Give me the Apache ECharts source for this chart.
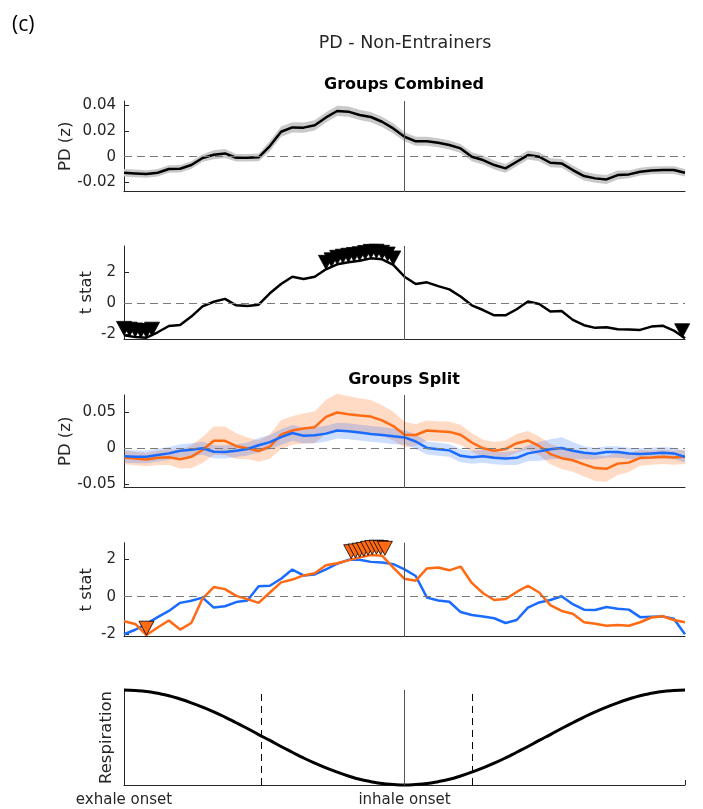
<!DOCTYPE html>
<html>
<head>
<meta charset="utf-8">
<script src="https://cdn.jsdelivr.net/npm/echarts@6/dist/echarts.min.js"></script>
<style>
  html, body { margin: 0; padding: 0; background: #ffffff; }
  #chart { width: 703px; height: 809px; }
</style>
</head>
<body>
<div id="chart"></div>
<script>
// Respiratory phase (0 = exhale onset, 100 = inhale onset, 200 = next exhale onset)
const phase = [0,4,8,12,16,20,24,28,32,36,40,44,48,52,56,60,64,68,72,76,80,84,88,92,96,100,
  104,108,112,116,120,124,128,132,136,140,144,148,152,156,160,164,168,172,176,180,184,188,192,196,200];

// Groups combined: mean pupil diameter (z) and its shaded error
const combinedPD = [-0.0125,-0.013,-0.0135,-0.0125,-0.0096,-0.0094,-0.0065,-0.001,0.0016,0.0026,-0.0008,
  -0.0008,-0.0005,0.0083,0.0195,0.0229,0.0227,0.0245,0.0307,0.0357,0.0352,0.0326,0.031,0.0273,0.0221,0.0156,
  0.012,0.012,0.0109,0.0091,0.0065,0.0,-0.0026,-0.0065,-0.0091,-0.0039,0.0013,0.0,-0.0047,-0.0052,-0.0104,
  -0.0151,-0.0169,-0.0177,-0.0143,-0.0138,-0.0117,-0.0107,-0.0104,-0.0104,-0.0125];
const combinedErr = [0.003,0.003,0.003,0.003,0.003,0.003,0.003,0.003,0.0035,0.0035,0.003,0.003,0.003,
  0.004,0.004,0.004,0.004,0.004,0.004,0.004,0.004,0.004,0.004,0.004,0.004,0.0035,
  0.0035,0.0035,0.0035,0.0035,0.0035,0.0035,0.0035,0.0035,0.0035,0.0035,0.0035,0.0035,0.0035,0.0035,0.0035,
  0.0035,0.0035,0.0035,0.0035,0.003,0.003,0.003,0.003,0.003,0.003];

// Groups combined: t statistic and significant samples
const combinedT = [-2.05,-2.15,-2.2,-1.85,-1.45,-1.38,-0.85,-0.2,0.1,0.28,-0.13,-0.17,-0.09,0.64,1.23,1.7,
  1.55,1.7,2.17,2.49,2.62,2.72,2.87,2.81,2.45,1.7,1.23,1.34,1.1,0.89,0.43,-0.13,-0.43,-0.77,-0.77,-0.38,
  0.11,-0.04,-0.53,-0.49,-1.06,-1.4,-1.57,-1.53,-1.66,-1.68,-1.7,-1.49,-1.43,-1.74,-2.23];
const sigCombinedX = [0,2,4,6,8,10,72,74,76,78,80,82,84,86,88,90,92,94,96,199];
const sigCombinedT = [-2.05,-2.1,-2.15,-2.2,-2.2,-2.1,2.17,2.33,2.49,2.56,2.62,2.67,2.72,2.8,2.87,2.88,2.81,2.7,2.45,-2.2];

// Groups split: pupil diameter (z), orange and blue groups
const splitPDOrange = [-0.0129,-0.0143,-0.0157,-0.0133,-0.0124,-0.0152,-0.0119,-0.0024,0.0105,0.0105,0.0029,
  0,-0.0038,0.0024,0.019,0.0248,0.0276,0.0295,0.0438,0.05,0.0476,0.0457,0.0443,0.039,0.031,0.019,
  0.0186,0.0248,0.0238,0.0229,0.019,0.0081,0,-0.0033,-0.001,0.0071,0.011,0.0033,-0.0081,-0.0138,-0.0167,
  -0.0224,-0.0276,-0.0286,-0.0214,-0.02,-0.0133,-0.0129,-0.0119,-0.0129,-0.0119];
const splitErrOrange = [0.0095,0.0095,0.0095,0.01,0.011,0.013,0.016,0.018,0.02,0.02,0.018,0.015,0.015,
  0.017,0.02,0.02,0.021,0.022,0.024,0.026,0.025,0.024,0.023,0.021,0.02,0.018,
  0.015,0.014,0.014,0.014,0.014,0.013,0.012,0.012,0.012,0.013,0.013,0.013,0.014,0.015,0.016,
  0.017,0.018,0.018,0.016,0.013,0.011,0.01,0.01,0.01,0.01];
const splitPDBlue = [-0.011,-0.0119,-0.0119,-0.0095,-0.0071,-0.0033,-0.0019,0,-0.0048,-0.0052,-0.0033,
  -0.001,0.0043,0.0086,0.0157,0.0214,0.0176,0.0181,0.0205,0.0248,0.0238,0.0219,0.02,0.0186,0.0167,0.0152,
  0.0095,0.0005,-0.0014,-0.0029,-0.0105,-0.0124,-0.011,-0.0133,-0.0143,-0.0133,-0.0071,-0.0043,-0.0014,
  0.0005,-0.0033,-0.0062,-0.0076,-0.0052,-0.0052,-0.0071,-0.0081,-0.0071,-0.0062,-0.0071,-0.0119];
const splitErrBlue = [0.009,0.009,0.009,0.009,0.009,0.009,0.009,0.009,0.009,0.009,0.009,0.009,0.01,
  0.01,0.011,0.011,0.011,0.011,0.011,0.011,0.011,0.011,0.011,0.011,0.011,0.01,
  0.01,0.009,0.009,0.009,0.009,0.009,0.009,0.009,0.009,0.01,0.011,0.013,0.014,0.015,0.012,
  0.009,0.008,0.008,0.008,0.008,0.008,0.008,0.008,0.008,0.008];

// Groups split: t statistic, orange and blue groups, with significant orange samples
const splitTOrange = [-1.31,-1.45,-2.04,-1.64,-1.27,-1.75,-1.4,-0.1,0.51,0.4,0.04,-0.13,-0.33,0.22,0.76,0.91,
  1.13,1.24,1.67,1.78,1.93,2.09,2.22,2.18,1.55,0.95,0.85,1.5,1.55,1.4,1.6,0.73,0.18,-0.18,-0.13,0.25,
  0.58,0.22,-0.45,-0.76,-0.91,-1.36,-1.44,-1.55,-1.51,-1.55,-1.36,-1.11,-1.04,-1.24,-1.36];
const splitTBlue = [-2.0,-1.76,-1.45,-1.09,-0.76,-0.33,-0.22,-0.05,-0.58,-0.51,-0.29,-0.2,0.55,0.58,0.95,1.44,
  1.13,1.18,1.45,1.75,1.96,1.96,1.85,1.82,1.73,1.45,1.1,-0.05,-0.2,-0.27,-0.82,-0.98,-1.05,-1.15,-1.4,-1.24,
  -0.58,-0.31,-0.18,0.02,-0.4,-0.69,-0.71,-0.55,-0.64,-0.69,-1.09,-1.07,-1.05,-1.18,-2.0];
const sigOrangeX = [8,81,82.5,84,85.5,87,88.5,90,91.5,93];
const sigOrangeT = [-2.05,2.02,2.06,2.1,2.14,2.2,2.24,2.26,2.24,2.2];

// Average respiration trace
const respiration = [1,0.99,0.97,0.93,0.88,0.81,0.73,0.64,0.54,0.43,0.31,0.19,0.06,-0.06,-0.19,-0.31,-0.43,
  -0.54,-0.64,-0.73,-0.81,-0.88,-0.93,-0.97,-0.99,-1,-0.99,-0.97,-0.93,-0.88,-0.81,-0.73,-0.64,-0.54,-0.43,
  -0.31,-0.19,-0.06,0.06,0.19,0.31,0.43,0.54,0.64,0.73,0.81,0.88,0.93,0.97,0.99,1];
const respMarkers = [49, 124];   // dashed phase markers
const inhaleOnset = 100;

const yTicks = [
  [-0.02, 0, 0.02, 0.04],
  [-2, 0, 2],
  [-0.05, 0, 0.05],
  [-2, 0, 2]
];
const yNames = ['PD (z)', 't stat', 'PD (z)', 't stat', 'Respiration'];

const FONT = 'DejaVu Sans';
const AXIS = '#262626';
const ORANGE = '#ff6a13';
const BLUE = '#1a6bff';

const grids = [
  { left: 124, width: 561, top: 101, height: 90.7 },
  { left: 124, width: 561, top: 246, height: 93.3 },
  { left: 124, width: 561, top: 395, height: 92.7 },
  { left: 124, width: 561, top: 542.7, height: 94 },
  { left: 124, width: 561, top: 690, height: 95 }
];
const yRanges = [
  [-0.0273, 0.0435],
  [-2.3, 3.66],
  [-0.055, 0.0744],
  [-2.13, 2.87],
  [-1, 1]
];
const nameGaps = [50, 29, 50, 29, 9];

const pairs = (ys) => ys.map((y, i) => [phase[i], y]);

const xAxes = grids.map((g, i) => ({
  type: 'value', gridIndex: i, min: 0, max: 200,
  axisLine: { show: true, onZero: false, lineStyle: { color: AXIS, width: 1 } },
  axisTick: i === 4
    ? { show: true, inside: true, length: 5, customValues: [0, 100, 200], lineStyle: { color: AXIS } }
    : { show: false },
  axisLabel: i === 4
    ? { show: true, customValues: [0, 100], margin: 8, fontFamily: FONT, fontSize: 15, color: AXIS,
        formatter: v => (v === 0 ? 'exhale onset' : 'inhale onset') }
    : { show: false },
  splitLine: { show: false }
}));

const yAxes = grids.map((g, i) => ({
  type: 'value', gridIndex: i, min: yRanges[i][0], max: yRanges[i][1],
  axisLine: { show: true, onZero: false, lineStyle: { color: AXIS, width: 1 } },
  axisTick: i < 4
    ? { show: true, inside: true, length: 5, customValues: yTicks[i], lineStyle: { color: AXIS } }
    : { show: false },
  axisLabel: i < 4
    ? { show: true, customValues: yTicks[i], margin: 8, fontFamily: FONT, fontSize: 15, color: AXIS,
        formatter: v => String(v) }
    : { show: false },
  splitLine: { show: false },
  name: yNames[i], nameLocation: 'middle', nameGap: nameGaps[i], nameMoveOverlap: false,
  nameTextStyle: { fontFamily: FONT, fontSize: 16.5, color: AXIS }
}));

// Shaded error band drawn as a polygon through the axis scales
function band(idx, mean, err, color) {
  return {
    type: 'custom', xAxisIndex: idx, yAxisIndex: idx, silent: true, z: 1,
    data: [[100, 0]],
    renderItem: (params, api) => {
      const pts = [];
      for (let i = 0; i < phase.length; i++) pts.push(api.coord([phase[i], mean[i] + err[i]]));
      for (let i = phase.length - 1; i >= 0; i--) pts.push(api.coord([phase[i], mean[i] - err[i]]));
      return { type: 'polygon', shape: { points: pts }, style: { fill: color } };
    }
  };
}

function line(idx, ys, color, width, z) {
  return {
    type: 'line', xAxisIndex: idx, yAxisIndex: idx, data: pairs(ys), symbol: 'none',
    lineStyle: { color, width }, z: z || 3, silent: true
  };
}

// Zero line and inhale-onset line for panels 1-4
function refLines(idx) {
  return {
    type: 'line', xAxisIndex: idx, yAxisIndex: idx, data: [], z: 2, silent: true,
    markLine: {
      silent: true, symbol: ['none', 'none'], label: { show: false }, animation: false,
      data: [
        { yAxis: 0, lineStyle: { color: '#7a7a7a', type: [8, 5], width: 1.2 } },
        { xAxis: inhaleOnset, lineStyle: { color: '#555555', type: 'solid', width: 1 } }
      ]
    }
  };
}

const TRI = 'path://M0,0 L20,0 L10,18 Z';
function markers(idx, xs, ts, fill) {
  return {
    type: 'scatter', xAxisIndex: idx, yAxisIndex: idx, z: 5, silent: true, clip: false,
    data: xs.map((x, i) => [x, ts[i]]),
    symbol: TRI, symbolSize: [15, 14], symbolOffset: [0, -7],
    itemStyle: { color: fill, borderColor: '#000', borderWidth: 0.8, opacity: 1 }
  };
}

const series = [
  refLines(0),
  band(0, combinedPD, combinedErr, '#c9c9c9'),
  line(0, combinedPD, '#000000', 2.5),

  refLines(1),
  line(1, combinedT, '#000000', 2.5),
  markers(1, sigCombinedX, sigCombinedT, '#000000'),

  refLines(2),
  band(2, splitPDOrange, splitErrOrange, 'rgba(255,106,19,0.25)'),
  band(2, splitPDBlue, splitErrBlue, 'rgba(26,107,255,0.22)'),
  line(2, splitPDOrange, ORANGE, 2.5, 3),
  line(2, splitPDBlue, BLUE, 2.5, 4),

  refLines(3),
  line(3, splitTBlue, BLUE, 2.5, 3),
  line(3, splitTOrange, ORANGE, 2.5, 4),
  markers(3, sigOrangeX, sigOrangeT, ORANGE),

  {
    type: 'line', xAxisIndex: 4, yAxisIndex: 4, data: pairs(respiration), symbol: 'none',
    smooth: true, clip: false, lineStyle: { color: '#000', width: 3 }, z: 3, silent: true,
    markLine: {
      silent: true, symbol: ['none', 'none'], label: { show: false }, animation: false,
      data: [
        { xAxis: respMarkers[0], lineStyle: { color: '#000', type: [7, 5], width: 1 } },
        { xAxis: inhaleOnset, lineStyle: { color: '#555555', type: 'solid', width: 1 } },
        { xAxis: respMarkers[1], lineStyle: { color: '#000', type: [7, 5], width: 1 } }
      ]
    }
  }
];

const chart = echarts.init(document.getElementById('chart'), null, { renderer: 'canvas' });
chart.setOption({
  animation: false,
  backgroundColor: '#ffffff',
  grid: grids.map(g => Object.assign({ containLabel: false }, g)),
  xAxis: xAxes,
  yAxis: yAxes,
  graphic: [
    { type: 'text', x: 12, y: 25, style: { text: '(c)', fill: '#000', font: '21px "Open Sans"', verticalAlign: 'middle' } },
    { type: 'text', x: 405, y: 43, style: { text: 'PD - Non-Entrainers', fill: AXIS, font: '17.5px "DejaVu Sans"', align: 'center', verticalAlign: 'middle' } },
    { type: 'text', x: 404, y: 85, style: { text: 'Groups Combined', fill: '#000', font: 'bold 16px "DejaVu Sans"', align: 'center', verticalAlign: 'middle' } },
    { type: 'text', x: 404, y: 380, style: { text: 'Groups Split', fill: '#000', font: 'bold 16px "DejaVu Sans"', align: 'center', verticalAlign: 'middle' } }
  ],
  series
});
</script>
</body>
</html>
